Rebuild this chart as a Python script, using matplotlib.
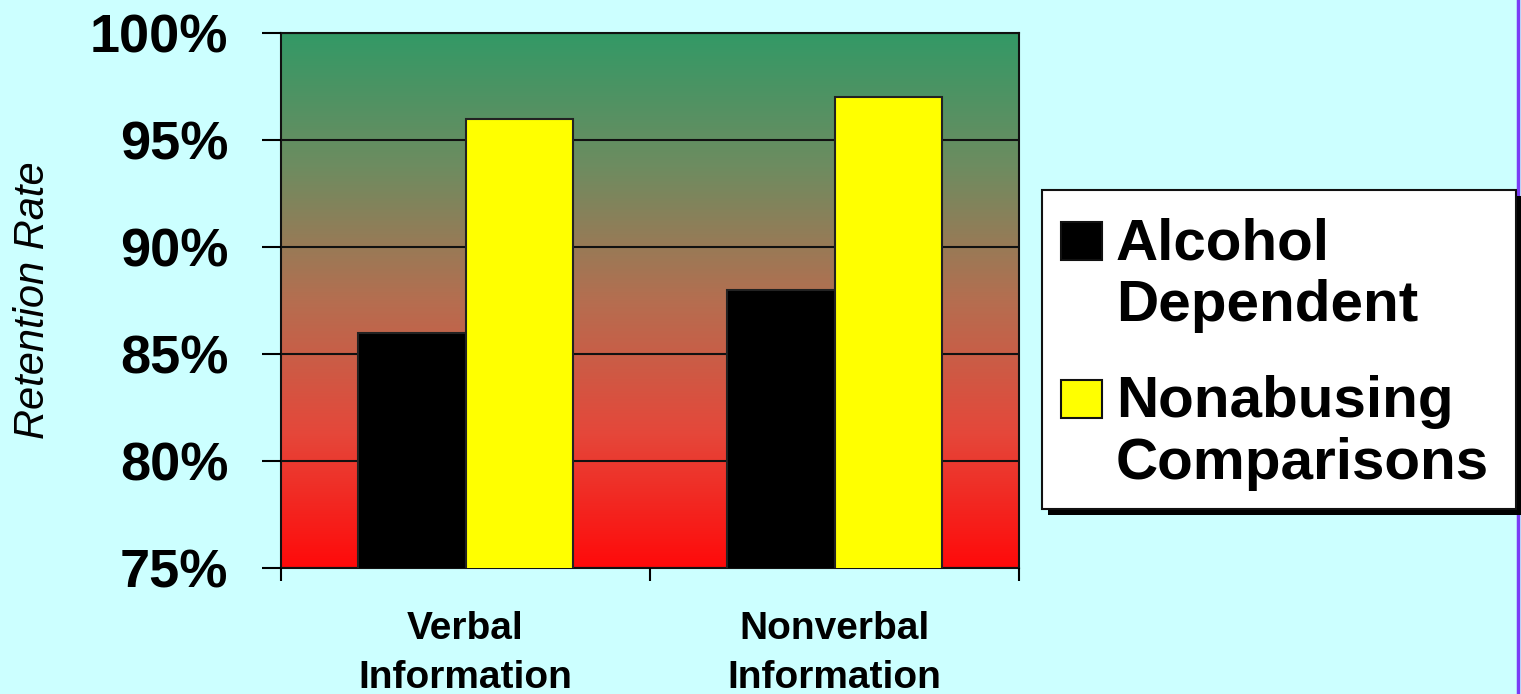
import matplotlib
matplotlib.use("Agg")
import matplotlib.pyplot as plt
import numpy as np
from matplotlib.colors import LinearSegmentedColormap
from matplotlib.patches import Rectangle
from matplotlib.lines import Line2D

categories = ["Verbal\nInformation", "Nonverbal\nInformation"]
series_names = ["Alcohol\nDependent", "Nonabusing\nComparisons"]
alcohol = [86, 88]
nonabusing = [96, 97]
yticks = [75, 80, 85, 90, 95, 100]

W, H = 1521, 694
plt.rcParams["font.family"] = ["Liberation Sans", "DejaVu Sans"]

fig = plt.figure(figsize=(W / 100, H / 100), dpi=100)
fig.patch.set_facecolor("#CCFFFF")


def fx(x):
    return x / W


def fy(y):
    return 1 - y / H


ax = fig.add_axes([fx(281), fy(568), (1019 - 281) / W, (568 - 33) / H])

# gradient plot area: green on top, red at the bottom
grad = LinearSegmentedColormap.from_list(
    "gr", ["#339966", "#6E8C60", "#B56E50", "#E5473A", "#FF0A0A"])
ax.imshow(np.linspace(0, 1, 256).reshape(-1, 1), extent=[-0.5, 1.5, 75, 100],
          aspect="auto", cmap=grad, origin="upper", zorder=0)

x = np.arange(len(categories))
w = 0.29
ax.bar(x - w / 2, alcohol, w, color="black", edgecolor="#222222",
       linewidth=1.5, zorder=3)
ax.bar(x + w / 2, nonabusing, w, color="#FFFF00", edgecolor="#222222",
       linewidth=1.5, zorder=3)

ax.set_xlim(-0.5, 1.5)
ax.set_ylim(75, 100)
ax.set_yticks(yticks)
ax.set_yticklabels([f"{v}%" for v in yticks])
ax.yaxis.grid(True, color="#111111", linewidth=1.5, zorder=1)
ax.set_axisbelow(False)

ax.set_xticks([-0.5, 0.5, 1.5])
ax.set_xticklabels([])
ax.set_xticks(x, minor=True)
ax.set_xticklabels(categories, minor=True, fontsize=28, fontweight="bold",
                   linespacing=1.45)
ax.tick_params(axis="x", which="major", length=9, width=1.5, direction="out")
ax.tick_params(axis="x", which="minor", length=0, pad=31)
ax.tick_params(axis="y", length=14, width=1.5, pad=24, labelsize=39)
for t in ax.get_yticklabels():
    t.set_fontweight("bold")

for s in ax.spines.values():
    s.set_linewidth(1.5)
    s.set_color("#111111")

ax.set_ylabel("Retention Rate", fontsize=30, fontstyle="italic")
ax.yaxis.set_label_coords((53 - 281) / (1019 - 281), 0.5)

# legend box with shadow
fig.patches.append(Rectangle((fx(1048), fy(515)), fx(1521) - fx(1048),
                             fy(196) - fy(515), transform=fig.transFigure,
                             facecolor="black", edgecolor="none", zorder=5))
fig.patches.append(Rectangle((fx(1042), fy(509)), fx(1516) - fx(1042),
                             fy(190) - fy(509), transform=fig.transFigure,
                             facecolor="white", edgecolor="#111111",
                             linewidth=1.5, zorder=6))
handle_colors = ["black", "#FFFF00"]
baselines = [259, 417]
for name, col, base in zip(series_names, handle_colors, baselines):
    fig.patches.append(Rectangle((fx(1061), fy(base + 1)), fx(1102) - fx(1061),
                                 fy(base - 37) - fy(base + 1),
                                 transform=fig.transFigure, facecolor=col,
                                 edgecolor="#111111", linewidth=1.5, zorder=7))
    fig.text(fx(1116), fy(base - 42), name, fontsize=42, fontweight="bold",
             va="top", ha="left", linespacing=1.2, zorder=8)

# purple edge line at right
fig.lines.append(Line2D([fx(1518), fx(1518)], [0, 1], transform=fig.transFigure,
                        color="#7A3CF5", linewidth=2.5))

fig.savefig("out.png", dpi=100, facecolor=fig.get_facecolor())
